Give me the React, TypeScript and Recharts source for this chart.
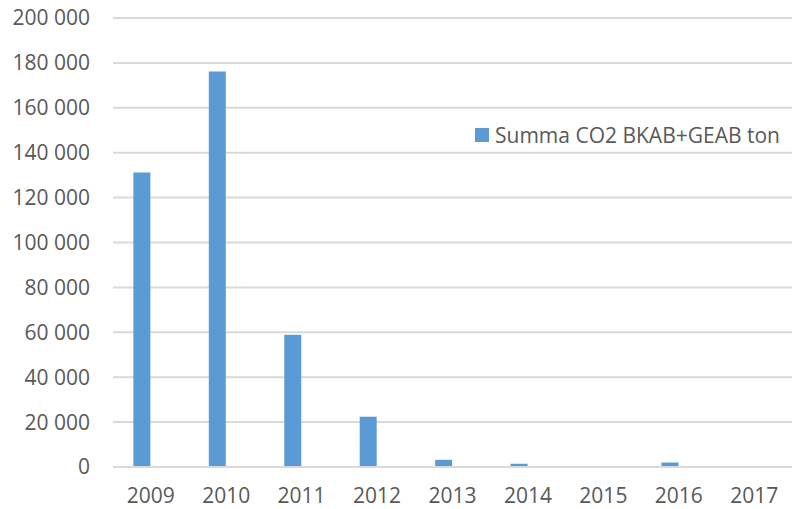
import React from "react";
import { BarChart, Bar, XAxis, YAxis, CartesianGrid, Legend } from "recharts";

const years = ["2009", "2010", "2011", "2012", "2013", "2014", "2015", "2016", "2017"];
const co2Tons = [131200, 176200, 58900, 22400, 3200, 1500, 200, 2000, 300];
const yTicks = [0, 20000, 40000, 60000, 80000, 100000, 120000, 140000, 160000, 180000, 200000];

const seriesName = "Summa CO2 BKAB+GEAB ton";
const barColor = "#5b9bd5";
const textColor = "#595959";
const font = "'Open Sans', 'Liberation Sans', sans-serif";
const fontSize = 21;

const data = years.map((year, i) => ({ year, co2: co2Tons[i] }));

// 200000 -> "200 000"
const fmt = (v: number) => String(v).replace(/\B(?=(\d{3})+(?!\d))/g, " ");

const LegendBox = () => (
  <div style={{ display: "flex", alignItems: "center", fontFamily: font, fontSize, color: textColor, whiteSpace: "nowrap" }}>
    <span style={{ width: 14, height: 14, background: barColor, marginRight: 6, display: "inline-block" }} />
    {seriesName}
  </div>
);

export default function App() {
  return (
    <div style={{ position: "absolute", left: 0, top: 0, background: "#fff" }}>
      <BarChart
        width={792}
        height={509}
        data={data}
        margin={{ top: 18, right: 0, left: 0, bottom: 0 }}
        barCategoryGap="27%"
        barGap={0}
      >
        <CartesianGrid vertical={false} stroke="#d9d9d9" strokeWidth={2} />
        <XAxis
          dataKey="year"
          height={42}
          tickLine={false}
          tickSize={0}
          tickMargin={21}
          axisLine={{ stroke: "#d9d9d9", strokeWidth: 2 }}
          tick={{ fill: textColor, fontSize, fontFamily: font }}
        />
        <YAxis
          width={113}
          domain={[0, 200000]}
          ticks={yTicks}
          tickFormatter={fmt}
          axisLine={false}
          tickLine={false}
          tickSize={0}
          tickMargin={23}
          tick={{ fill: textColor, fontSize, fontFamily: font }}
        />
        <Legend
          layout="vertical"
          align="center"
          verticalAlign="middle"
          content={<LegendBox />}
          wrapperStyle={{ position: "absolute", left: 475, top: 121, width: "auto" }}
        />
        <Bar dataKey="co2" name={seriesName} fill={barColor} isAnimationActive={false} />
        <Bar dataKey="blank" legendType="none" fill="none" isAnimationActive={false} />
      </BarChart>
    </div>
  );
}
